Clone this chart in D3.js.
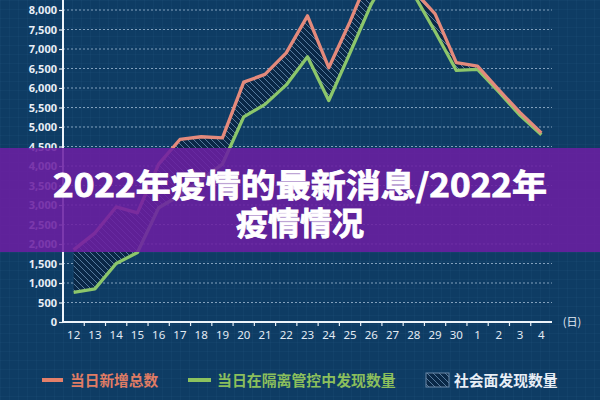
<!DOCTYPE html>
<html><head><meta charset="utf-8">
<script src="https://cdn.jsdelivr.net/npm/d3@7"></script>
<style>html,body{margin:0;padding:0;background:#0d3a62;}svg{display:block;}</style>
</head><body>
<svg id="c" width="600" height="400"></svg>
<script>
const categories = ["12","13","14","15","16","17","18","19","20","21","22","23","24","25","26","27","28","29","30","1","2","3","4"];
const totalNew = [1850,2280,2950,2800,4050,4680,4750,4720,6150,6350,6900,7850,6520,7700,9000,9500,8500,7900,6650,6560,5950,5370,4850];
const quarantined = [760,850,1500,1780,2930,3250,3650,4050,5260,5580,6080,6800,5680,6900,8150,9100,8400,7450,6450,6480,5900,5300,4800];
const yTicks = [0,500,1000,1500,2000,2500,3000,3500,4000,4500,5000,5500,6000,6500,7000,7500,8000];
const legendLabels = ["当日新增总数","当日在隔离管控中发现数量","社会面发现数量"];
const titleLines = ["2022年疫情的最新消息/2022年","疫情情况"];
const unitLabel = "(日)";

const svg = d3.select("#c");
const defs = svg.append("defs");
const bg = defs.append("pattern").attr("id","bggrid").attr("patternUnits","userSpaceOnUse").attr("width",9).attr("height",9);
bg.append("rect").attr("width",9).attr("height",9).attr("fill","#0e3c64");
bg.append("path").attr("d","M9,0 L0,0 L0,9").attr("fill","none").attr("stroke","rgba(120,170,220,0.08)").attr("stroke-width",1);
const hp = defs.append("pattern").attr("id","hatch").attr("patternUnits","userSpaceOnUse").attr("width",6).attr("height",6);
hp.append("rect").attr("width",6).attr("height",6).attr("fill","#0a2847");
hp.append("path").attr("d","M0,0 L6,6 M-1,5 L1,7 M5,-1 L7,1").attr("stroke","#5f84a8").attr("stroke-width",0.9);

svg.append("rect").attr("width",600).attr("height",400).attr("fill","url(#bggrid)");

const x = d3.scaleBand().domain(categories).range([63,552]);
const y = d3.scaleLinear().domain([0,8000]).range([322,10]);
const cx = d => x(d)+x.bandwidth()/2;

svg.append("g").selectAll("line").data(yTicks.filter(v=>v>0)).join("line")
  .attr("x1",63).attr("x2",552).attr("y1",d=>y(d)).attr("y2",d=>y(d))
  .attr("stroke","#a9c2da").attr("stroke-width",1).attr("stroke-dasharray","2,2").attr("opacity",0.75);

const area = d3.area().x((d,i)=>cx(categories[i])).y0((d,i)=>y(quarantined[i])).y1((d,i)=>y(totalNew[i]));
svg.append("path").datum(totalNew).attr("d",area).attr("fill","url(#hatch)");

const line = arr => d3.line().x((d,i)=>cx(categories[i])).y(d=>y(d))(arr);
svg.append("path").attr("d",line(quarantined)).attr("fill","none").attr("stroke","#8cc66b").attr("stroke-width",3.3).attr("stroke-linejoin","round");
svg.append("path").attr("d",line(totalNew)).attr("fill","none").attr("stroke","#e48a7c").attr("stroke-width",3.3).attr("stroke-linejoin","round");

const yAxis = d3.axisLeft(y).tickValues(yTicks).tickFormat(d3.format(",")).tickSize(4).tickPadding(2);
const gy = svg.append("g").attr("transform","translate(63,0)").call(yAxis);
gy.select(".domain").remove();
gy.selectAll(".tick line").attr("stroke","#e6eef6").attr("stroke-width",1.2);
gy.selectAll("text").attr("fill","#e8eef6").attr("font-family","'Noto Sans',sans-serif").attr("font-weight","bold").attr("font-size",11);
svg.append("line").attr("x1",63).attr("x2",63).attr("y1",0).attr("y2",323).attr("stroke","#eef4fa").attr("stroke-width",2);

const xAxis = d3.axisBottom(x).tickSize(0).tickPadding(9);
const gx = svg.append("g").attr("transform","translate(0,322)").call(xAxis);
gx.select(".domain").remove();
gx.selectAll("text").attr("fill","#e3ebf4").attr("font-family","'Noto Sans',sans-serif").attr("font-size",11.5);
svg.append("g").selectAll("line").data(categories.slice(1)).join("line")
  .attr("x1",d=>x(d)).attr("x2",d=>x(d)).attr("y1",322).attr("y2",326)
  .attr("stroke","#e6eef6").attr("stroke-width",1.2);
svg.append("line").attr("x1",62).attr("x2",552).attr("y1",322).attr("y2",322).attr("stroke","#eef4fa").attr("stroke-width",2);
svg.append("text").attr("x",572).attr("y",326).attr("text-anchor","middle").attr("fill","#e3ebf4")
  .attr("font-family","'Noto Sans CJK SC',sans-serif").attr("font-size",11).text(unitLabel);

const lf = "'Noto Sans CJK SC',sans-serif";
svg.append("line").attr("x1",42).attr("x2",63).attr("y1",380).attr("y2",380).attr("stroke","#e4806a").attr("stroke-width",4);
svg.append("text").attr("x",70).attr("y",385.5).attr("fill","#e07c64").attr("font-family",lf).attr("font-weight","bold").attr("font-size",14.7).text(legendLabels[0]);
svg.append("line").attr("x1",188).attr("x2",211).attr("y1",380).attr("y2",380).attr("stroke","#8cc25e").attr("stroke-width",4);
svg.append("text").attr("x",217).attr("y",385.5).attr("fill","#8bbf5c").attr("font-family",lf).attr("font-weight","bold").attr("font-size",14.9).text(legendLabels[1]);
svg.append("rect").attr("x",426).attr("y",373).attr("width",23).attr("height",14).attr("fill","url(#hatch)").attr("stroke","#6a88a8").attr("stroke-width",1);
svg.append("text").attr("x",454).attr("y",385.5).attr("fill","#e8eef6").attr("font-family",lf).attr("font-weight","bold").attr("font-size",14.8).text(legendLabels[2]);

svg.append("rect").attr("x",0).attr("y",148).attr("width",600).attr("height",104).attr("fill","#6b1fa2").attr("opacity",0.88);
svg.append("text").attr("x",300).attr("y",197).attr("text-anchor","middle").attr("fill","#ffffff")
  .attr("stroke","#ffffff").attr("stroke-width",0.8)
  .attr("font-family",lf).attr("font-weight","bold").attr("font-size",32).attr("textLength",494).attr("lengthAdjust","spacingAndGlyphs").text(titleLines[0]);
svg.append("text").attr("x",300).attr("y",235).attr("text-anchor","middle").attr("fill","#ffffff")
  .attr("stroke","#ffffff").attr("stroke-width",0.8)
  .attr("font-family",lf).attr("font-weight","bold").attr("font-size",32).text(titleLines[1]);
</script>
</body></html>
